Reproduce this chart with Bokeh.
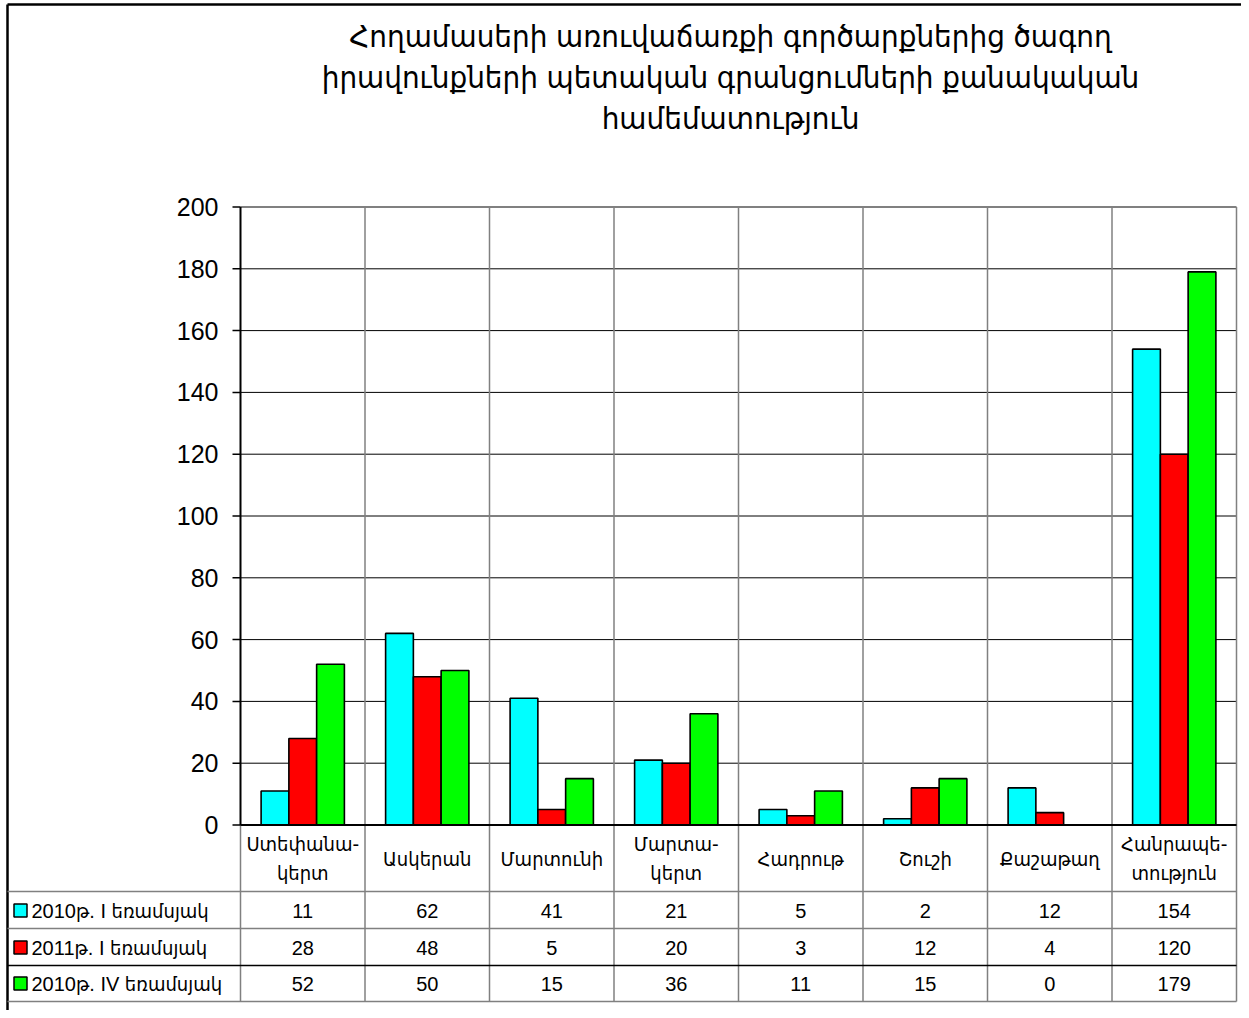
from bokeh.plotting import figure
from bokeh.models import Range1d, ColumnDataSource
from bokeh.transform import dodge
from bokeh.core.properties import value
from bokeh.embed import file_html
from bokeh.resources import INLINE

# ---------------- data ----------------
title_lines = [
    "Հողամասերի առուվաճառքի գործարքներից ծագող",
    "իրավունքների պետական գրանցումների քանակական",
    "համեմատություն",
]
categories = ["Ստեփանա-\nկերտ", "Ասկերան", "Մարտունի", "Մարտա-\nկերտ",
              "Հադրութ", "Շուշի", "Քաշաթաղ", "Հանրապե-\nտություն"]
series_names = ["2010թ. I եռամսյակ", "2011թ. I եռամսյակ", "2010թ. IV եռամսյակ"]
q1_2010 = [11, 62, 41, 21, 5, 2, 12, 154]
q1_2011 = [28, 48, 5, 20, 3, 12, 4, 120]
q4_2010 = [52, 50, 15, 36, 11, 15, 0, 179]
series_values = [q1_2010, q1_2011, q4_2010]
colors = ["#00FFFF", "#FF0000", "#00FF00"]
y_ticks = [0, 20, 40, 60, 80, 100, 120, 140, 160, 180, 200]

# ---------------- layout (canvas pixels) ----------------
W, H = 1241, 1010
AX_LEFT, AX_RIGHT = 240, 1236
Y0_PX, YTOP_PX = 824.5, 206.5
n = len(categories)
col_w = (AX_RIGHT - AX_LEFT) / n
ppu = (Y0_PX - YTOP_PX) / y_ticks[-1]
ROW_LINES = [891, 928, 965, 1001]
ROW_CENTERS = [910, 947, 983]
CAT_CENTER = 858
TITLE_Y = [36, 77, 118]

FONT = "Liberation Sans, DejaVu Sans Condensed, DejaVu Sans"
GRAY = "#808080"

p = figure(width=W, height=H,
           x_range=Range1d(-AX_LEFT / col_w, (W - AX_LEFT) / col_w),
           y_range=Range1d((Y0_PX - H) / ppu, Y0_PX / ppu),
           x_axis_type=None, y_axis_type=None, min_border=0,
           toolbar_location=None, output_backend="svg",
           outline_line_color=None)
p.extra_x_ranges = {"px": Range1d(0, W)}
p.extra_y_ranges = {"px": Range1d(H, 0)}
p.grid.visible = False

xc = [i + 0.5 for i in range(n)]

# chart border (frame)
p.segment(x0=[7, 7], x1=[7, W], y0=[4, 4], y1=[H, 4], x_range_name="px", y_range_name="px",
          line_color="black", line_width=2.5)

# horizontal gridlines
p.segment(x0=0, x1=n, y0=y_ticks[1:-1], y1=y_ticks[1:-1], line_color="black", line_width=1)
p.segment(x0=0, x1=n, y0=y_ticks[-1], y1=y_ticks[-1], line_color=GRAY, line_width=2)

# vertical category lines (chart + table)
p.segment(x0=list(range(1, n + 1)), x1=list(range(1, n + 1)), y0=YTOP_PX, y1=ROW_LINES[-1],
          y_range_name="px", line_color=GRAY, line_width=1.5)
p.segment(x0=0, x1=0, y0=Y0_PX, y1=ROW_LINES[-1], y_range_name="px", line_color=GRAY, line_width=1.5)

# table horizontal lines
p.segment(x0=7, x1=AX_RIGHT, y0=ROW_LINES, y1=ROW_LINES, x_range_name="px", y_range_name="px",
          line_color=[GRAY, GRAY, "black", GRAY], line_width=1.5)

# bars
src = ColumnDataSource(dict(x=xc, a=q1_2010, b=q1_2011, c=q4_2010))
bw = 0.223
for key, off, col in zip(["a", "b", "c"], [-bw, 0, bw], colors):
    p.vbar(x=dodge("x", off), top=key, bottom=0, width=bw, source=src,
           fill_color=col, line_color="black", line_width=1.6)

# axes lines
p.segment(x0=0, x1=0, y0=0, y1=y_ticks[-1], line_color="black", line_width=2)
p.segment(x0=0, x1=n, y0=0, y1=0, line_color="black", line_width=2)
p.segment(x0=AX_LEFT - 8, x1=AX_LEFT, y0=y_ticks, y1=y_ticks, x_range_name="px",
          line_color="black", line_width=1.5)
p.text(x=AX_LEFT - 22, y=y_ticks, text=[str(t) for t in y_ticks], x_range_name="px",
       text_align="right", text_baseline="middle", text_font=value(FONT),
       text_font_size="25px", text_color="black")

# category labels
p.text(x=xc, y=CAT_CENTER, text=categories, y_range_name="px",
       text_align="center", text_baseline="middle", text_font=value(FONT),
       text_font_size="20px", text_line_height=1.35, text_color="black")

# table values
for r, vals in enumerate(series_values):
    p.text(x=xc, y=ROW_CENTERS[r], text=[str(v) for v in vals], y_range_name="px",
           text_align="center", text_baseline="middle", text_font=value(FONT),
           text_font_size="20px", text_color="black")

# legend keys and names
p.rect(x=20, y=ROW_CENTERS, width=13, height=13, x_range_name="px", y_range_name="px",
       fill_color=colors, line_color="black", line_width=1.5)
p.text(x=31, y=ROW_CENTERS, text=series_names, x_range_name="px", y_range_name="px",
       text_align="left", text_baseline="middle", text_font=value(FONT),
       text_font_size="20px", text_color="black")

# title
p.text(x=730, y=TITLE_Y, text=title_lines, x_range_name="px", y_range_name="px",
       text_align="center", text_baseline="middle", text_font=value(FONT),
       text_font_size="31px", text_color="black")

open("out.html", "w").write(file_html(p, INLINE))
